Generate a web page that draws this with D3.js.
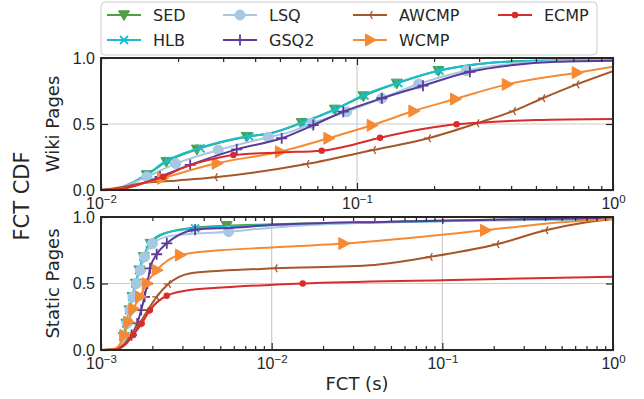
<!DOCTYPE html>
<html>
<head>
<meta charset="utf-8">
<script src="https://cdn.jsdelivr.net/npm/d3@7"></script>
<style>
  body { margin: 0; background: #fff; }
  svg { font-family: "DejaVu Sans", sans-serif; }
  .tick line { stroke: #262626; stroke-width: 1.2; }
  .tick text { fill: #262626; font-size: 16px; }
</style>
</head>
<body>
<div id="chart"></div>
<script>
// legend order / names
var names = ["SED", "HLB", "LSQ", "GSQ2", "AWCMP", "WCMP", "ECMP"];
var colors = ["#4f9f45", "#17becf", "#a6c8e2", "#5b3a9a", "#a65628", "#f68a33", "#d92b2b"];
var shapes = ["triDown", "cross", "circle", "plus", "triLeft", "triRight", "dot"];

// ---- Wiki pages (top), FCT in s vs CDF ----
var wikiSED = [[0.01,0],[0.0115,0.01],[0.013,0.045],[0.0151,0.114],[0.018,0.214],[0.0237,0.308],[0.0371,0.404],[0.046,0.43],[0.0608,0.51],[0.082,0.611],[0.106,0.712],[0.143,0.808],[0.208,0.904],[0.3,0.955],[0.5,0.98],[1,0.985]];
var wikiSEDMarks = [[0.0151,0.114],[0.018,0.214],[0.0237,0.308],[0.0371,0.404],[0.0608,0.51],[0.082,0.611],[0.106,0.712],[0.143,0.808],[0.208,0.904]];
var wikiHLB = [[0.01,0],[0.0115,0.012],[0.013,0.05],[0.015,0.115],[0.018,0.22],[0.024,0.315],[0.037,0.405],[0.046,0.43],[0.061,0.51],[0.082,0.61],[0.105,0.715],[0.143,0.81],[0.21,0.905],[0.3,0.955],[0.5,0.98],[1,0.987]];
var wikiHLBMarks = [[0.0153,0.115],[0.0183,0.22],[0.0245,0.315],[0.038,0.405],[0.0615,0.51],[0.083,0.61],[0.107,0.715],[0.145,0.81],[0.21,0.905]];
var wikiLSQ = [[0.01,0],[0.0115,0.01],[0.013,0.045],[0.0151,0.1],[0.0196,0.2],[0.0287,0.303],[0.045,0.4],[0.055,0.44],[0.0665,0.505],[0.0912,0.593],[0.125,0.695],[0.174,0.803],[0.267,0.904],[0.4,0.955],[0.7,0.98],[1,0.985]];
var wikiLSQMarks = [[0.0151,0.1],[0.0196,0.2],[0.0287,0.303],[0.045,0.4],[0.0665,0.505],[0.0912,0.593],[0.125,0.695],[0.174,0.803],[0.267,0.904]];
var wikiGSQ2 = [[0.01,0],[0.012,0.01],[0.014,0.04],[0.017,0.1],[0.0223,0.19],[0.0339,0.308],[0.0508,0.392],[0.0675,0.492],[0.0884,0.593],[0.125,0.695],[0.181,0.79],[0.276,0.896],[0.4,0.945],[0.6,0.972],[1,0.98]];
var wikiGSQ2Marks = [[0.017,0.1],[0.0223,0.19],[0.0339,0.308],[0.0508,0.392],[0.0675,0.492],[0.0884,0.593],[0.125,0.695],[0.181,0.79],[0.276,0.896]];
var wikiAWCMP = [[0.01,0],[0.012,0.02],[0.0142,0.05],[0.02,0.072],[0.0279,0.096],[0.0636,0.197],[0.1158,0.303],[0.19,0.392],[0.2935,0.505],[0.4077,0.598],[0.531,0.695],[0.7216,0.8],[1,0.9]];
var wikiAWCMPMarks = [[0.0279,0.096],[0.0636,0.197],[0.1158,0.303],[0.19,0.392],[0.2935,0.505],[0.4077,0.598],[0.531,0.695],[0.7216,0.8]];
var wikiWCMP = [[0.01,0],[0.012,0.01],[0.014,0.04],[0.0173,0.088],[0.0283,0.202],[0.05,0.29],[0.0773,0.392],[0.1141,0.49],[0.166,0.598],[0.2415,0.689],[0.3846,0.8],[0.7216,0.889],[1,0.934]];
var wikiWCMPMarks = [[0.0173,0.088],[0.0283,0.202],[0.05,0.29],[0.0773,0.392],[0.1141,0.49],[0.166,0.598],[0.2415,0.689],[0.3846,0.8],[0.7216,0.889]];
var wikiECMP = [[0.01,0],[0.012,0.01],[0.0145,0.05],[0.0175,0.1],[0.021,0.17],[0.026,0.225],[0.0329,0.265],[0.05,0.285],[0.0728,0.298],[0.09,0.33],[0.123,0.396],[0.245,0.498],[0.3,0.51],[0.5,0.53],[1,0.538]];
var wikiECMPMarks = [[0.0175,0.1],[0.0329,0.265],[0.0728,0.298],[0.123,0.396],[0.245,0.498]];

// ---- Static pages (bottom) ----
var staticSED = [[0.001,0],[0.0012,0.005],[0.0013,0.03],[0.00136,0.1],[0.00141,0.2],[0.00147,0.3],[0.00153,0.4],[0.0016,0.5],[0.00168,0.6],[0.00178,0.7],[0.00195,0.8],[0.0023,0.87],[0.0033,0.915],[0.0055,0.935],[0.01,0.945],[0.05,0.965],[0.2,0.98],[1,0.99]];
var staticSEDMarks = [[0.00136,0.1],[0.00141,0.2],[0.00147,0.3],[0.00153,0.4],[0.0016,0.5],[0.00168,0.6],[0.00178,0.7],[0.00195,0.8],[0.00545,0.934]];
var staticHLB = [[0.001,0],[0.0012,0.006],[0.0013,0.035],[0.00135,0.1],[0.0014,0.2],[0.00146,0.3],[0.00152,0.4],[0.00159,0.5],[0.00167,0.6],[0.00177,0.7],[0.00193,0.8],[0.0023,0.875],[0.00356,0.915],[0.006,0.93],[0.01,0.94],[0.05,0.96],[0.2,0.975],[1,0.985]];
var staticHLBMarks = [[0.00135,0.1],[0.0014,0.2],[0.00146,0.3],[0.00152,0.4],[0.00159,0.5],[0.00167,0.6],[0.00177,0.7],[0.00193,0.8],[0.00356,0.915]];
var staticLSQ = [[0.001,0],[0.0012,0.005],[0.0013,0.03],[0.00137,0.1],[0.00142,0.2],[0.00148,0.3],[0.00154,0.4],[0.00161,0.5],[0.0017,0.6],[0.0018,0.7],[0.002,0.8],[0.0026,0.86],[0.0056,0.89],[0.01,0.92],[0.03,0.955],[0.2,0.975],[1,0.985]];
var staticLSQMarks = [[0.00137,0.1],[0.00142,0.2],[0.00148,0.3],[0.00154,0.4],[0.00161,0.5],[0.0017,0.6],[0.0018,0.7],[0.002,0.8],[0.0056,0.89]];
var staticGSQ2 = [[0.001,0],[0.0012,0.004],[0.0013,0.02],[0.0014,0.05],[0.00151,0.113],[0.00163,0.2],[0.00172,0.3],[0.0018,0.4],[0.00187,0.5],[0.00194,0.614],[0.00212,0.72],[0.00243,0.802],[0.0029,0.87],[0.00356,0.905],[0.006,0.92],[0.01,0.94],[0.05,0.965],[0.2,0.98],[1,0.99]];
var staticGSQ2Marks = [[0.00151,0.113],[0.00163,0.2],[0.00172,0.3],[0.0018,0.4],[0.00187,0.5],[0.00194,0.614],[0.00212,0.72],[0.00243,0.802],[0.00356,0.905]];
var staticAWCMP = [[0.001,0],[0.0012,0.004],[0.0013,0.02],[0.0014,0.06],[0.00147,0.1],[0.00168,0.2],[0.00188,0.3],[0.00212,0.4],[0.00248,0.496],[0.0033,0.576],[0.005,0.595],[0.01046,0.614],[0.04,0.64],[0.0847,0.7],[0.2082,0.795],[0.4034,0.9],[0.7,0.96],[1,0.985]];
var staticAWCMPMarks = [[0.00147,0.1],[0.00168,0.2],[0.00188,0.3],[0.00212,0.4],[0.00248,0.496],[0.01046,0.614],[0.0847,0.7],[0.2082,0.795],[0.4034,0.9]];
var staticWCMP = [[0.001,0],[0.0012,0.008],[0.0013,0.05],[0.00137,0.11],[0.001445,0.21],[0.001546,0.31],[0.001693,0.4],[0.001853,0.5],[0.00212,0.6],[0.0029,0.714],[0.005,0.75],[0.01,0.77],[0.0263,0.8],[0.1778,0.9],[0.5,0.96],[1,0.985]];
var staticWCMPMarks = [[0.00137,0.11],[0.001445,0.21],[0.001546,0.31],[0.001693,0.4],[0.001853,0.5],[0.00212,0.6],[0.0029,0.714],[0.0263,0.8],[0.1778,0.9]];
var staticECMP = [[0.001,0],[0.0012,0.003],[0.0013,0.015],[0.0014,0.045],[0.001546,0.113],[0.001732,0.2],[0.001936,0.3],[0.002427,0.408],[0.0035,0.455],[0.006,0.475],[0.0152,0.5],[0.1,0.525],[1,0.551]];
var staticECMPMarks = [[0.001546,0.113],[0.001732,0.2],[0.001936,0.3],[0.002427,0.408],[0.0152,0.5]];

var yTicks = [0, 0.5, 1];

var wikiSeries = [[wikiSED, wikiSEDMarks], [wikiHLB, wikiHLBMarks], [wikiLSQ, wikiLSQMarks], [wikiGSQ2, wikiGSQ2Marks],
                  [wikiAWCMP, wikiAWCMPMarks], [wikiWCMP, wikiWCMPMarks], [wikiECMP, wikiECMPMarks]];
var staticSeries = [[staticSED, staticSEDMarks], [staticHLB, staticHLBMarks], [staticLSQ, staticLSQMarks], [staticGSQ2, staticGSQ2Marks],
                    [staticAWCMP, staticAWCMPMarks], [staticWCMP, staticWCMPMarks], [staticECMP, staticECMPMarks]];

var W = 644, H = 399;
var left = 101, right = 613;

var svg = d3.select("#chart").append("svg")
    .attr("width", W)
    .attr("height", H);

// draw one marker of a given shape
function marker(g, shape, color) {
    if (shape == "triDown") {
        g.append("path").attr("d", "M-5.5,-4.2L5.5,-4.2L0,5.6Z").attr("fill", color).attr("stroke", color);
    } else if (shape == "cross") {
        g.append("path").attr("d", "M-4,-4L4,4M-4,4L4,-4").attr("stroke", color).attr("stroke-width", 1.8);
    } else if (shape == "circle") {
        g.append("circle").attr("r", 5).attr("fill", color).attr("stroke", color);
    } else if (shape == "plus") {
        g.append("path").attr("d", "M-5.5,0L5.5,0M0,-5.5L0,5.5").attr("stroke", color).attr("stroke-width", 1.8);
    } else if (shape == "triLeft") {
        g.append("path").attr("d", "M0,0L-4.5,0M0,0L2.3,-3.9M0,0L2.3,3.9").attr("stroke", color).attr("stroke-width", 1.3);
    } else if (shape == "triRight") {
        g.append("path").attr("d", "M-4.5,-6L6.5,0L-4.5,6Z").attr("fill", color).attr("stroke", color);
    } else if (shape == "dot") {
        g.append("circle").attr("r", 3.2).attr("fill", color);
    }
}

function logLabels(g) {
    g.selectAll(".tick text").each(function(d) {
        var t = d3.select(this);
        var e = Math.round(Math.log10(d));
        t.text(null);
        t.append("tspan").text("10");
        t.append("tspan").attr("dy", "-0.5em").attr("font-size", "11.5px")
            .text(e < 0 ? "\u2212" + (-e) : e);
    });
}

function panel(id, top, bottom, xmin, series, ylabel) {
    var x = d3.scaleLog().domain([xmin, 1]).range([left, right]);
    var y = d3.scaleLinear().domain([0, 1]).range([bottom, top]);

    var majors = d3.range(Math.round(Math.log10(xmin)), 1).map(function(e) { return Math.pow(10, e); });
    var minors = [];
    majors.slice(0, -1).forEach(function(m) { for (var k = 2; k < 10; k++) minors.push(m * k); });

    // grid
    svg.append("g").selectAll("line.gx").data(majors).enter().append("line")
        .attr("x1", function(d) { return x(d); }).attr("x2", function(d) { return x(d); })
        .attr("y1", top).attr("y2", bottom)
        .attr("stroke", "#cccccc").attr("stroke-width", 1.2);
    svg.append("g").selectAll("line.gy").data(yTicks).enter().append("line")
        .attr("x1", left).attr("x2", right)
        .attr("y1", function(d) { return y(d); }).attr("y2", function(d) { return y(d); })
        .attr("stroke", "#cccccc").attr("stroke-width", 1.2);

    svg.append("clipPath").attr("id", id)
        .append("rect").attr("x", left).attr("y", top - 8).attr("width", right - left).attr("height", bottom - top + 8);

    var line = d3.line()
        .x(function(d) { return x(d[0]); })
        .y(function(d) { return y(d[1]); })
        .curve(d3.curveMonotoneX);

    var plot = svg.append("g").attr("clip-path", "url(#" + id + ")");
    series.forEach(function(s, i) {
        plot.append("path")
            .datum(s[0])
            .attr("d", line)
            .attr("fill", "none")
            .attr("stroke", colors[i])
            .attr("stroke-width", 2);
        plot.append("g").selectAll("g").data(s[1]).enter().append("g")
            .attr("transform", function(d) { return "translate(" + x(d[0]) + "," + y(d[1]) + ")"; })
            .each(function() { marker(d3.select(this), shapes[i], colors[i]); });
    });

    // axes, ticks pointing inward
    var gb = svg.append("g").attr("transform", "translate(0," + bottom + ")")
        .call(d3.axisBottom(x).tickValues(majors).tickSize(-7).tickPadding(7.5));
    gb.call(logLabels);
    svg.append("g").attr("transform", "translate(0," + bottom + ")")
        .call(d3.axisBottom(x).tickValues(minors).tickSize(-4).tickFormat(""));
    svg.append("g").attr("transform", "translate(0," + top + ")")
        .call(d3.axisTop(x).tickValues(majors).tickSize(-7).tickFormat(""));
    svg.append("g").attr("transform", "translate(0," + top + ")")
        .call(d3.axisTop(x).tickValues(minors).tickSize(-4).tickFormat(""));
    svg.append("g").attr("transform", "translate(" + left + ",0)")
        .call(d3.axisLeft(y).tickValues(yTicks).tickSize(-7).tickPadding(6).tickFormat(d3.format(".1f")));
    svg.append("g").attr("transform", "translate(" + right + ",0)")
        .call(d3.axisRight(y).tickValues(yTicks).tickSize(-7).tickFormat(""));
    svg.selectAll(".domain").remove();

    svg.append("rect")
        .attr("x", left).attr("y", top)
        .attr("width", right - left).attr("height", bottom - top)
        .attr("fill", "none").attr("stroke", "#262626").attr("stroke-width", 2);

    svg.append("text")
        .attr("transform", "translate(59," + ((top + bottom) / 2) + ") rotate(-90)")
        .attr("text-anchor", "middle")
        .attr("font-size", "18px").attr("fill", "#262626")
        .text(ylabel);
}

panel("clipWiki", 58, 190, 0.01, wikiSeries, "Wiki Pages");
panel("clipStatic", 217, 350, 0.001, staticSeries, "Static Pages");

svg.append("text")
    .attr("transform", "translate(29,196) rotate(-90)")
    .attr("text-anchor", "middle")
    .attr("font-size", "21px").attr("fill", "#262626")
    .text("FCT CDF");

svg.append("text")
    .attr("x", 357).attr("y", 390)
    .attr("text-anchor", "middle")
    .attr("font-size", "18px").attr("fill", "#262626")
    .text("FCT (s)");

// legend, 4 columns filled column-wise
var legend = svg.append("g");
legend.append("rect")
    .attr("x", 101).attr("y", 2).attr("width", 496).attr("height", 53).attr("rx", 4)
    .attr("fill", "#fff").attr("fill-opacity", 0.8)
    .attr("stroke", "#cccccc");
var colX = [107, 223, 353, 498];
var rowY = [15, 40];
names.forEach(function(n, i) {
    var g = legend.append("g")
        .attr("transform", "translate(" + colX[Math.floor(i / 2)] + "," + rowY[i % 2] + ")");
    g.append("line").attr("x1", 0).attr("x2", 34).attr("stroke", colors[i]).attr("stroke-width", 2);
    marker(g.append("g").attr("transform", "translate(17,0)"), shapes[i], colors[i]);
    g.append("text").attr("x", 46).attr("dy", "0.35em")
        .attr("font-size", "16px").attr("fill", "#262626")
        .text(n);
});
</script>
</body>
</html>
